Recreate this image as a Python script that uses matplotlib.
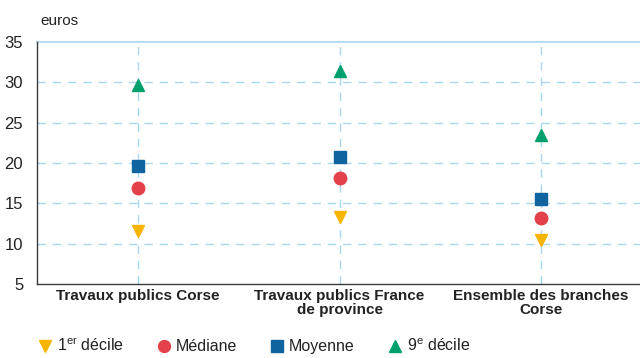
import matplotlib
matplotlib.use("Agg")
import matplotlib.pyplot as plt

plt.rcParams['font.family'] = ['Liberation Sans', 'DejaVu Sans']
plt.rcParams['mathtext.fontset'] = 'custom'
plt.rcParams['mathtext.rm'] = 'Liberation Sans'

# Salaire horaire brut par branche (euros)
categories = ["Travaux publics Corse", "Travaux publics France\nde province",
              "Ensemble des branches\nCorse"]
decile_1 = [11.6, 13.3, 10.5]
mediane = [16.9, 18.1, 13.2]
moyenne = [19.6, 20.7, 15.5]
decile_9 = [29.7, 31.4, 23.5]
y_ticks = [5, 10, 15, 20, 25, 30, 35]

grid_col = "#a9d7f0"

fig = plt.figure(figsize=(6.4, 3.58), dpi=100)
ax = fig.add_axes([0.058, 0.207, 0.945, 0.676])

x = range(len(categories))
ms = 9
ax.plot(x, decile_1, 'v', color="#f7b500", ms=ms, ls='none', label=r"1$^{\mathrm{er}}$ décile", zorder=3)
ax.plot(x, mediane, 'o', color="#e4404a", ms=ms, ls='none', label="Médiane", zorder=3)
ax.plot(x, moyenne, 's', color="#0f64a0", ms=ms, ls='none', label="Moyenne", zorder=3)
ax.plot(x, decile_9, '^', color="#00a06e", ms=ms, ls='none', label=r"9$^{\mathrm{e}}$ décile", zorder=3)

ax.set_xlim(-0.5, 2.5)
ax.set_ylim(5, 35)
ax.set_yticks(y_ticks)
ax.set_xticks(list(x))
ax.set_xticklabels(categories, fontweight='bold', fontsize=11, linespacing=0.92)
ax.tick_params(axis='y', length=0, labelsize=12, pad=10, labelcolor="#222222")
ax.tick_params(axis='x', length=0, pad=4, labelcolor="#222222")

# grille pointillée bleue
for yv in y_ticks[1:-1]:
    ax.axhline(yv, color=grid_col, lw=1, ls=(0, (6, 5)), zorder=1)
for xv in x:
    ax.axvline(xv, color=grid_col, lw=1, ls=(0, (6, 5)), zorder=1)
ax.axhline(35, color=grid_col, lw=1.2, zorder=1, clip_on=False)

for s in ['top', 'right']:
    ax.spines[s].set_visible(False)
for s in ['left', 'bottom']:
    ax.spines[s].set_color("#3a3a3a")
    ax.spines[s].set_linewidth(1)

fig.text(0.063, 0.93, "euros", fontsize=11, color="#222222")

fig.legend(loc='lower left', bbox_to_anchor=(0.035, -0.03), ncol=4, frameon=False,
           fontsize=11.5, handletextpad=0.25, columnspacing=2.0, handlelength=1.0,
           markerscale=0.95, labelcolor="#222222")

fig.savefig("out.png", dpi=100)
